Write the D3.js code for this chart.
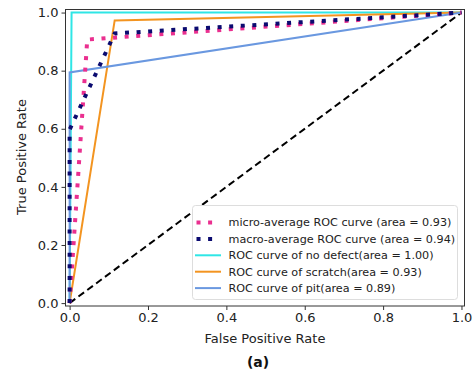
<!DOCTYPE html>
<html><head><meta charset="utf-8">
<script src="https://cdn.jsdelivr.net/npm/d3@7"></script>
<style>body{margin:0;background:#fff}svg{display:block}text{font-family:"DejaVu Sans",sans-serif}</style>
</head><body><svg id="c" width="476" height="377"></svg>
<script>
const ticks = [0.0, 0.2, 0.4, 0.6, 0.8, 1.0];
const microFpr = [0, 0.045, 1];
const microTpr = [0, 0.907, 1];
const macroFpr = [0, 0, 0.115, 1];
const macroTpr = [0, 0.597, 0.928, 1];
const noDefectFpr = [0, 0.005, 1];
const noDefectTpr = [0, 1, 1];
const scratchFpr = [0, 0.115, 1];
const scratchTpr = [0, 0.973, 1];
const pitFpr = [0, 0.0, 1];
const pitTpr = [0, 0.794, 1];
const legendLabels = [
  "micro-average ROC curve (area = 0.93)",
  "macro-average ROC curve (area = 0.94)",
  "ROC curve of no defect(area = 1.00)",
  "ROC curve of scratch(area = 0.93)",
  "ROC curve of pit(area = 0.89)"
];

const svg = d3.select("#c");
const x = d3.scaleLinear().domain([-0.0105, 1.0077]).range([65.5, 464.5]);
const y = d3.scaleLinear().domain([-0.01, 1.0105]).range([306, 9.5]);

const series = [
  {fx: noDefectFpr, ty: noDefectTpr, color: "#2fe6e6", w: 2, dash: null},
  {fx: scratchFpr, ty: scratchTpr, color: "#f39420", w: 2, dash: null},
  {fx: pitFpr, ty: pitTpr, color: "#6a98e0", w: 2, dash: null},
  {fx: microFpr, ty: microTpr, color: "#ea2f8f", w: 4, dash: "4,7.6"},
  {fx: macroFpr, ty: macroTpr, color: "#0b0b70", w: 4, dash: "4,7.6"}
];
const line = d3.line().x(d => x(d[0])).y(d => y(d[1]));

const g = svg.append("g");
g.append("path").attr("d", line([[0,0],[1,1]])).attr("fill","none")
  .attr("stroke","#000").attr("stroke-width",2).attr("stroke-dasharray","7,4");
series.forEach(s => {
  const pts = s.fx.map((v,i) => [v, s.ty[i]]);
  g.append("path").attr("d", line(pts)).attr("fill","none")
    .attr("stroke", s.color).attr("stroke-width", s.w)
    .attr("stroke-dasharray", s.dash).attr("stroke-linecap","butt");
});

svg.append("rect").attr("x", 65.5).attr("y", 9.5).attr("width", 399).attr("height", 296.5)
  .attr("fill","none").attr("stroke","#333").attr("stroke-width",1);

const xa = svg.append("g").attr("transform","translate(0,306)")
  .call(d3.axisBottom(x).tickValues(ticks).tickFormat(d3.format(".1f")).tickSize(4).tickPadding(3));
const ya = svg.append("g").attr("transform","translate(65.5,0)")
  .call(d3.axisLeft(y).tickValues(ticks).tickFormat(d3.format(".1f")).tickSize(4).tickPadding(3));
[xa, ya].forEach(a => {
  a.select(".domain").remove();
  a.selectAll("line").attr("stroke","#333");
  a.selectAll("text").attr("font-size", 13).attr("fill","#222").attr("font-family","DejaVu Sans");
});

svg.append("text").attr("x", 265).attr("y", 343).attr("text-anchor","middle")
  .attr("font-size", 13).attr("fill","#222").text("False Positive Rate");
svg.append("text").attr("transform","translate(26,157) rotate(-90)").attr("text-anchor","middle")
  .attr("font-size", 13).attr("fill","#222").text("True Positive Rate");
svg.append("text").attr("x", 258).attr("y", 367).attr("text-anchor","middle")
  .attr("font-size", 14).attr("font-weight","bold").attr("fill","#111").text("(a)");

const lg = svg.append("g");
lg.append("rect").attr("x", 192.5).attr("y", 205.5).attr("width", 265).attr("height", 94).attr("rx", 3)
  .attr("fill","#fff").attr("stroke","#ddd");
const order = [3,4,0,1,2];
legendLabels.forEach((t,i) => {
  const s = series[order[i]];
  const yy = 222.5 + i*16.4;
  lg.append("line").attr("x1", s.dash ? 196.5 : 195).attr("x2", s.dash ? 218 : 221).attr("y1", yy).attr("y2", yy)
    .attr("stroke", s.color).attr("stroke-width", s.w).attr("stroke-dasharray", s.dash);
  lg.append("text").attr("x", 228.5).attr("y", yy).attr("dy","0.35em")
    .attr("font-size", 11.2).attr("fill","#222").text(t);
});
</script></body></html>
